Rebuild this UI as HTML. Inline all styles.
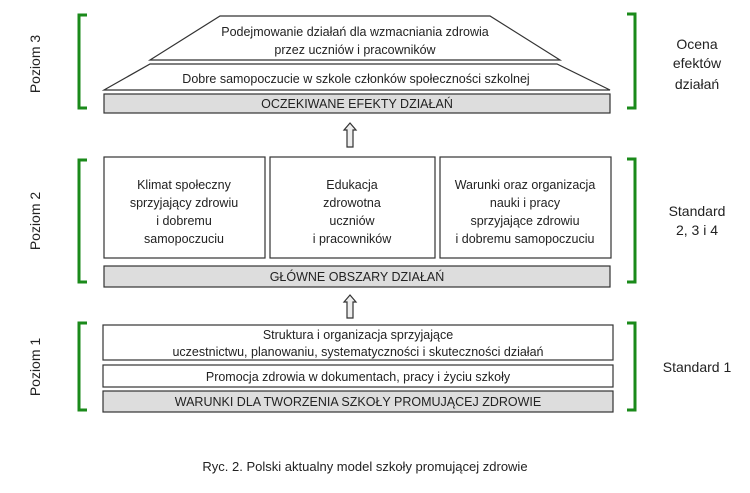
<!DOCTYPE html>
<html><head><meta charset="utf-8"><style>
html,body{margin:0;padding:0;background:#fff;}
svg{display:block;}
text{font-family:"Liberation Sans",sans-serif;fill:#222;}
</style></head><body>
<svg width="750" height="493" viewBox="0 0 750 493" xmlns="http://www.w3.org/2000/svg">
<g stroke="#333" stroke-width="1.2" fill="#fff">
<polygon points="220,16 490,16 560,60 150,60"/>
<polygon points="150,64 557,64 610,90 104,90"/>
<rect x="104" y="94" width="506" height="19" fill="#ddd"/>
<rect x="104" y="157" width="161" height="101"/>
<rect x="270" y="157" width="165" height="101"/>
<rect x="440" y="157" width="171" height="101"/>
<rect x="104" y="266" width="506" height="21" fill="#ddd"/>
<rect x="103" y="325" width="510" height="35"/>
<rect x="103" y="365" width="510" height="22"/>
<rect x="103" y="391" width="510" height="21" fill="#ddd"/>
<polygon points="350,123 356,130 353,130 353,147 347,147 347,130 344,130" fill="#eee"/>
<polygon points="350,295 356,302 353,302 353,318 347,318 347,302 344,302" fill="#eee"/>
</g>
<g stroke="#1a8a1a" stroke-width="3" fill="none">
<polyline points="87,15 79,15 79,108 87,108"/>
<polyline points="87,160 79,160 79,282 87,282"/>
<polyline points="87,323 79,323 79,410 87,410"/>
<polyline points="627,14 635,14 635,108 627,108"/>
<polyline points="627,159 635,159 635,282 627,282"/>
<polyline points="627,323 635,323 635,410 627,410"/>
</g>
<g font-size="12.5" text-anchor="middle">
<text x="355" y="36">Podejmowanie działań dla wzmacniania zdrowia</text>
<text x="355" y="54">przez uczniów i pracowników</text>
<text x="356" y="83">Dobre samopoczucie w szkole członków społeczności szkolnej</text>
<text x="357" y="108">OCZEKIWANE EFEKTY DZIAŁAŃ</text>
<text x="184" y="189">Klimat społeczny</text>
<text x="184" y="207">sprzyjający zdrowiu</text>
<text x="184" y="225">i dobremu</text>
<text x="184" y="243">samopoczuciu</text>
<text x="352" y="189">Edukacja</text>
<text x="352" y="207">zdrowotna</text>
<text x="352" y="225">uczniów</text>
<text x="352" y="243">i pracowników</text>
<text x="525" y="189">Warunki oraz organizacja</text>
<text x="525" y="207">nauki i pracy</text>
<text x="525" y="225">sprzyjające zdrowiu</text>
<text x="525" y="243">i dobremu samopoczuciu</text>
<text x="357" y="281">GŁÓWNE OBSZARY DZIAŁAŃ</text>
<text x="358" y="339">Struktura i organizacja sprzyjające</text>
<text x="358" y="356">uczestnictwu, planowaniu, systematyczności i skuteczności działań</text>
<text x="358" y="381">Promocja zdrowia w dokumentach, pracy i życiu szkoły</text>
<text x="358" y="406">WARUNKI DLA TWORZENIA SZKOŁY PROMUJĄCEJ  ZDROWIE</text>
</g>
<g font-size="14" text-anchor="middle">
<text x="697" y="49">Ocena</text>
<text x="697" y="68">efektów</text>
<text x="697" y="89">działań</text>
<text x="697" y="216">Standard</text>
<text x="697" y="235">2, 3 i 4</text>
<text x="697" y="372">Standard 1</text>
<text transform="translate(40,64) rotate(-90)">Poziom 3</text>
<text transform="translate(40,221) rotate(-90)">Poziom 2</text>
<text transform="translate(40,367) rotate(-90)">Poziom 1</text>
<text x="365" y="471" font-size="13">Ryc. 2. Polski aktualny model szkoły promującej zdrowie</text>
</g>
</svg>
</body></html>
